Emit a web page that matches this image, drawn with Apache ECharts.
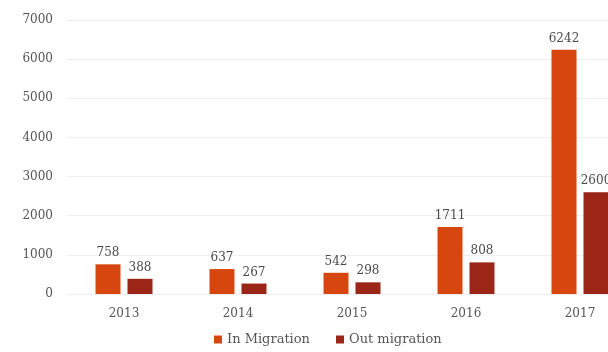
<!DOCTYPE html>
<html><head><meta charset="utf-8">
<script src="https://cdn.jsdelivr.net/npm/echarts@6/dist/echarts.min.js"></script>
<style>html,body{margin:0;padding:0;background:#fff;overflow:hidden;width:608px;height:352px}#c{width:640px;height:352px}</style>
</head><body><div id="c"></div>
<script>
const categories = ['2013','2014','2015','2016','2017'];
const inMigration = [758, 637, 542, 1711, 6242];
const outMigration = [388, 267, 298, 808, 2600];
const seriesNames = ['In Migration', 'Out migration'];

const font = 'DejaVu Serif';
const chart = echarts.init(document.getElementById('c'));
const lbl = {show:true, position:'top', color:'#4a4a4a', fontFamily:font, fontSize:12, distance:5};
chart.setOption({
  animation:false,
  grid:{left:67, right:3, top:20, bottom:58},
  legend:{bottom:1, left:209, itemWidth:8, itemHeight:8, itemGap:26, icon:'rect',
    textStyle:{fontFamily:font, fontSize:13, color:'#555'}},
  xAxis:{type:'category', data:categories, axisLine:{show:false}, axisTick:{show:false},
    axisLabel:{fontFamily:font, fontSize:12, color:'#555', margin:14}},
  yAxis:{type:'value', min:0, max:7000, interval:1000,
    axisLabel:{fontFamily:font, fontSize:12, color:'#555', margin:14, formatter:v=>String(v)},
    splitLine:{lineStyle:{color:'#eeeeee'}}},
  series:[
    {name:seriesNames[0], type:'bar', data:inMigration, barWidth:25, barGap:'28%',
      itemStyle:{color:'#d8460f'}, label:lbl},
    {name:seriesNames[1], type:'bar', data:outMigration, barWidth:25,
      itemStyle:{color:'#9b2517'}, label:lbl}
  ]
});
</script></body></html>
